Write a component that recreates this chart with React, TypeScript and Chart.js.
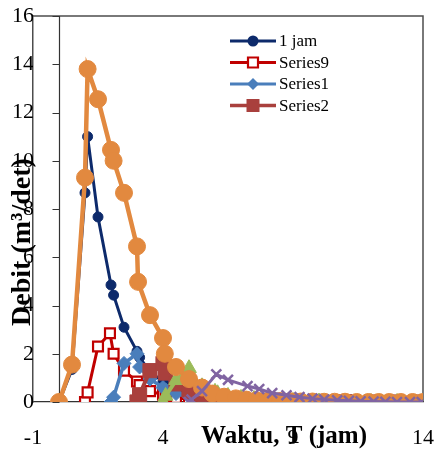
import React, { useEffect, useRef } from 'react';
import { Chart, registerables } from 'chart.js';

Chart.register(...registerables);

// Axis settings
const xMin = -1;
const xMax = 14;
const xStep = 5;
const yMin = 0;
const yMax = 16;
const yStep = 2;

const xTitle = 'Waktu, T (jam)';
const yTitle = 'Debit (m³/det)';

// Hydrograph series: time (jam) and discharge (m³/det)
const oneHourX = [0, 0.5, 1.0, 1.1, 1.5, 2.0, 2.1, 2.5, 3.0, 3.1, 3.5, 4.0, 4.1, 4.5, 5.0, 5.5, 6.0, 6.5, 7.0, 7.5, 8.0, 9.0, 10.0, 11.0, 12.0, 13.0, 14.0];
const oneHourY = [0, 1.35, 8.67, 11.0, 7.67, 4.85, 4.43, 3.1, 2.1, 1.85, 1.25, 0.85, 0.75, 0.5, 0.33, 0.22, 0.15, 0.1, 0.07, 0.05, 0.03, 0.02, 0.01, 0, 0, 0, 0];

const series9X = [1.0, 1.1, 1.5, 1.96, 2.1, 2.5, 3.0, 3.1, 3.5, 4.0, 4.1, 4.5, 5.0, 5.5, 6.0, 6.5, 7.0, 8.0, 9.0, 10.0, 11.0, 12.0, 13.0, 14.0];
const series9Y = [0, 0.4, 2.3, 2.85, 2.0, 1.3, 0.85, 0.7, 0.45, 0.3, 0.25, 0.17, 0.12, 0.08, 0.05, 0.04, 0.03, 0.02, 0.01, 0, 0, 0, 0, 0];

const series1X = [2.0, 2.1, 2.5, 3.0, 3.1, 3.5, 4.0, 4.1, 4.5, 5.0, 5.5, 6.0, 6.5, 7.0, 8.0, 9.0, 10.0, 11.0, 12.0, 13.0, 14.0];
const series1Y = [0, 0.2, 1.6, 2.0, 1.45, 0.95, 0.6, 0.5, 0.35, 0.22, 0.15, 0.1, 0.07, 0.05, 0.03, 0.02, 0.01, 0, 0, 0, 0];

const series2X = [3.0, 3.1, 3.5, 4.0, 4.1, 4.5, 5.0, 5.1, 5.5, 6.0, 6.5, 7.0, 8.0, 9.0, 10.0, 11.0, 12.0, 13.0, 14.0];
const series2Y = [0, 0.3, 1.3, 1.6, 1.2, 0.75, 0.5, 0.42, 0.3, 0.2, 0.13, 0.09, 0.05, 0.03, 0.02, 0.01, 0, 0, 0];

const series3X = [4.0, 4.1, 4.5, 5.0, 5.1, 5.5, 6.0, 6.1, 6.5, 7.0, 7.5, 8.0, 9.0, 10.0, 11.0, 12.0, 13.0, 14.0];
const series3Y = [0, 0.25, 0.9, 1.4, 1.0, 0.65, 0.42, 0.36, 0.25, 0.17, 0.12, 0.08, 0.04, 0.02, 0.01, 0, 0, 0];

const series4X = [5.0, 5.1, 5.5, 6.05, 6.5, 7.25, 7.7, 8.2, 8.75, 9.25, 9.75, 10.2, 10.7, 11.15, 11.6, 12.1, 12.55, 13.0, 13.5, 13.95];
const series4Y = [0, 0.1, 0.45, 1.15, 0.92, 0.66, 0.54, 0.37, 0.28, 0.2, 0.14, 0.1, 0.07, 0.05, 0.03, 0.02, 0.01, 0, 0, 0];

const series5X = [0, 0.5, 1.0, 1.1, 1.5, 2.0, 2.1, 2.5, 3.0, 3.04, 3.5, 4.0, 4.07, 4.5, 5.0, 5.5, 5.9, 6.35, 6.8, 7.2, 7.6, 8.05, 8.5, 8.9, 9.3, 9.75, 10.2, 10.6, 11.0, 11.45, 11.9, 12.3, 12.7, 13.15, 13.6, 14.0];
const series5Y = [0, 1.55, 9.3, 13.8, 12.55, 10.45, 10.0, 8.67, 6.45, 4.98, 3.6, 2.65, 2.0, 1.45, 0.95, 0.6, 0.35, 0.22, 0.15, 0.1, 0.07, 0.05, 0.04, 0.03, 0.02, 0.02, 0.01, 0.01, 0.01, 0, 0, 0, 0, 0, 0, 0];

const legendNames = ['1 jam', 'Series9', 'Series1', 'Series2'];

const SERIF = '"Liberation Serif", "Times New Roman", serif';

const toPoints = (xs: number[], ys: number[]) => xs.map((x, i) => ({ x, y: ys[i] }));

type LegendStyle = {
  color: string;
  lineWidth: number;
  marker: 'circle' | 'openSquare' | 'diamond' | 'square';
  size: number;
};

const legendStyles: LegendStyle[] = [
  { color: '#0d2a6b', lineWidth: 3, marker: 'circle', size: 5.5 },
  { color: '#c00000', lineWidth: 3, marker: 'openSquare', size: 5 },
  { color: '#4a7ebb', lineWidth: 3, marker: 'diamond', size: 6 },
  { color: '#a9403d', lineWidth: 3.5, marker: 'square', size: 6.5 },
];

function drawMarker(ctx: CanvasRenderingContext2D, s: LegendStyle, x: number, y: number) {
  ctx.save();
  ctx.fillStyle = s.color;
  ctx.strokeStyle = s.color;
  ctx.beginPath();
  if (s.marker === 'circle') {
    ctx.arc(x, y, s.size, 0, Math.PI * 2);
    ctx.fill();
  } else if (s.marker === 'square') {
    ctx.rect(x - s.size, y - s.size, s.size * 2, s.size * 2);
    ctx.fill();
  } else if (s.marker === 'openSquare') {
    ctx.rect(x - s.size, y - s.size, s.size * 2, s.size * 2);
    ctx.fillStyle = '#ffffff';
    ctx.fill();
    ctx.lineWidth = 2.2;
    ctx.stroke();
  } else {
    ctx.moveTo(x, y - s.size);
    ctx.lineTo(x + s.size, y);
    ctx.lineTo(x, y + s.size);
    ctx.lineTo(x - s.size, y);
    ctx.closePath();
    ctx.fill();
  }
  ctx.restore();
}

// Plot frame plus the vertical axis crossing at x = 0
const framePlugin = {
  id: 'frame',
  beforeDatasetsDraw(chart: any) {
    const { ctx, chartArea, scales } = chart;
    const { left, right, top, bottom } = chartArea;
    ctx.save();
    ctx.strokeStyle = '#4d4d4d';
    ctx.lineWidth = 1.5;
    ctx.beginPath();
    ctx.moveTo(left, top);
    ctx.lineTo(right, top);
    ctx.lineTo(right, bottom);
    ctx.stroke();

    const x0 = Math.round(scales.x.getPixelForValue(0)) + 0.5;
    ctx.strokeStyle = '#333333';
    ctx.lineWidth = 1.2;
    ctx.beginPath();
    ctx.moveTo(x0, top);
    ctx.lineTo(x0, bottom);
    for (let v = yMin; v <= yMax; v += yStep) {
      const py = Math.round(scales.y.getPixelForValue(v)) + 0.5;
      ctx.moveTo(x0 - 7, py);
      ctx.lineTo(x0, py);
    }
    ctx.stroke();
    ctx.restore();
  },
  afterDraw(chart: any) {
    const { ctx } = chart;
    ctx.save();
    // Legend
    ctx.font = `17px ${SERIF}`;
    ctx.textBaseline = 'middle';
    ctx.textAlign = 'left';
    const rowY = [41, 62.5, 84, 105.5];
    legendNames.forEach((name, i) => {
      const s = legendStyles[i];
      const y = rowY[i];
      ctx.strokeStyle = s.color;
      ctx.lineWidth = s.lineWidth;
      ctx.beginPath();
      ctx.moveTo(230, y);
      ctx.lineTo(276, y);
      ctx.stroke();
      drawMarker(ctx, s, 253, y);
      ctx.fillStyle = '#000000';
      ctx.fillText(name, 279, y + 1);
    });

    // Axis titles
    ctx.fillStyle = '#000000';
    ctx.font = `bold 25px ${SERIF}`;
    ctx.textAlign = 'center';
    ctx.textBaseline = 'middle';
    ctx.fillText(xTitle, 284, 437);

    ctx.translate(23, 242);
    ctx.rotate(-Math.PI / 2);
    ctx.font = `bold 28px ${SERIF}`;
    ctx.fillText(yTitle, 0, 0);
    ctx.restore();
  },
};

export default function App() {
  const canvasRef = useRef<HTMLCanvasElement | null>(null);

  useEffect(() => {
    const canvas = canvasRef.current;
    if (!canvas) return;

    const line = (
      label: string,
      xs: number[],
      ys: number[],
      color: string,
      width: number,
      pointStyle: any,
      radius: number,
      order: number,
      extra: any = {}
    ) => ({
      label,
      data: toPoints(xs, ys),
      showLine: true,
      borderColor: color,
      backgroundColor: color,
      borderWidth: width,
      pointStyle,
      pointRadius: radius,
      pointBorderColor: color,
      pointBackgroundColor: color,
      pointBorderWidth: 1,
      order,
      ...extra,
    });

    const chart = new Chart(canvas, {
      type: 'scatter',
      data: {
        datasets: [
          line('1 jam', oneHourX, oneHourY, '#0d2a6b', 3, 'circle', 5, 6),
          line('Series9', series9X, series9Y, '#c00000', 3, 'rect', 7, 5, {
            pointBackgroundColor: '#ffffff',
            pointBorderWidth: 2.2,
          }),
          line('Series1', series1X, series1Y, '#4a7ebb', 3.5, 'rectRot', 7, 4),
          line('Series2', series2X, series2Y, '#a9403d', 4, 'rect', 10, 3),
          line('Series3', series3X, series3Y, '#9bbb59', 4, 'triangle', 8.5, 2),
          line('Series4', series4X, series4Y, '#8064a2', 3, 'crossRot', 7, 0, {
            pointBorderWidth: 2.5,
          }),
          line('Series5', series5X, series5Y, '#e2893f', 4.5, 'circle', 8.5, 1),
        ],
      },
      options: {
        animation: false,
        responsive: false,
        devicePixelRatio: 1,
        layout: { padding: { top: 16, right: 13, left: 0, bottom: 0 } },
        plugins: {
          legend: { display: false },
          tooltip: { enabled: false },
        },
        scales: {
          x: {
            type: 'linear',
            min: xMin,
            max: xMax,
            ticks: {
              stepSize: xStep,
              color: '#000000',
              font: { family: SERIF, size: 22 },
              padding: 23,
              maxRotation: 0,
            },
            grid: { display: false, drawTicks: false },
            border: { display: true, color: '#333333', width: 1.2 },
            afterFit: (scale: any) => {
              scale.height = 47;
              scale.paddingLeft = 0;
              scale.paddingRight = 0;
            },
          },
          y: {
            type: 'linear',
            min: yMin,
            max: yMax,
            ticks: {
              stepSize: yStep,
              color: '#000000',
              font: { family: SERIF, size: 22 },
              padding: -1,
            },
            grid: { display: false, drawTicks: false },
            border: { display: true, color: '#4d4d4d', width: 1.5 },
            afterFit: (scale: any) => {
              scale.width = 33;
              scale.paddingTop = 0;
              scale.paddingBottom = 0;
            },
          },
        },
      },
      plugins: [framePlugin],
    });

    return () => chart.destroy();
  }, []);

  return (
    <div style={{ position: 'absolute', left: 0, top: 0, width: 436, height: 449, background: '#ffffff' }}>
      <canvas ref={canvasRef} width={436} height={449} />
    </div>
  );
}
